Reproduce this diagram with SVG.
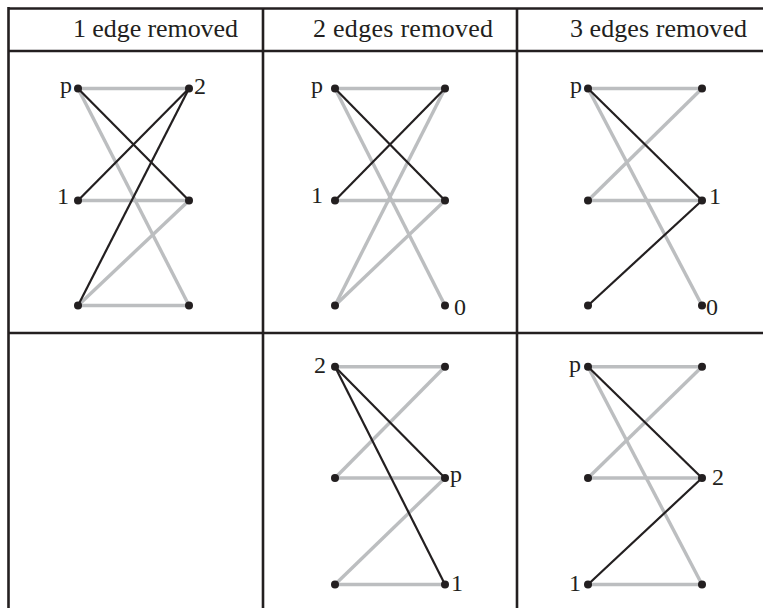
<svg xmlns="http://www.w3.org/2000/svg" width="763" height="608" viewBox="0 0 763 608">
<style>
.grid{stroke:#231f20;stroke-width:2.6;fill:none}
.g{stroke:#bcbec0;stroke-width:3.4;fill:none}
.k{stroke:#231f20;stroke-width:2.2;fill:none}
.dot{fill:#231f20}
</style>
<rect width="763" height="608" fill="#fff"/>
<g id="table">
<line class="grid" x1="8" y1="8.5" x2="763" y2="8.5"/>
<line class="grid" x1="8" y1="51" x2="763" y2="51"/>
<line class="grid" x1="8" y1="333" x2="763" y2="333"/>
<line class="grid" x1="8.5" y1="7" x2="8.5" y2="608"/>
<line class="grid" x1="263" y1="8" x2="263" y2="608"/>
<line class="grid" x1="517" y1="8" x2="517" y2="608"/>
</g>
<g id="headers" font-family="Liberation Serif, Times New Roman, serif" font-size="26" fill="#231f20">
<text x="73" y="37" textLength="165">1 edge removed</text>
<text x="313" y="37" textLength="180">2 edges removed</text>
<text x="570" y="37" textLength="177">3 edges removed</text>
</g>
<g id="connectors">
<line class="g" x1="78" y1="88.5" x2="189" y2="88.5"/>
<line class="g" x1="78" y1="88.5" x2="189" y2="305.5"/>
<line class="g" x1="78" y1="200.5" x2="189" y2="200.5"/>
<line class="g" x1="189" y1="200.5" x2="78" y2="305.5"/>
<line class="g" x1="78" y1="305.5" x2="189" y2="305.5"/>
<line class="k" x1="78" y1="88.5" x2="189" y2="200.5"/>
<line class="k" x1="78" y1="200.5" x2="189" y2="88.5"/>
<line class="k" x1="78" y1="305.5" x2="189" y2="88.5"/>
<line class="g" x1="335" y1="88.5" x2="445" y2="88.5"/>
<line class="g" x1="335" y1="88.5" x2="445" y2="305.5"/>
<line class="g" x1="335" y1="200.5" x2="445" y2="200.5"/>
<line class="g" x1="445" y1="88.5" x2="335" y2="305.5"/>
<line class="g" x1="445" y1="200.5" x2="335" y2="305.5"/>
<line class="k" x1="335" y1="88.5" x2="445" y2="200.5"/>
<line class="k" x1="335" y1="200.5" x2="445" y2="88.5"/>
<line class="g" x1="588" y1="88.5" x2="702" y2="88.5"/>
<line class="g" x1="588" y1="88.5" x2="702" y2="305.5"/>
<line class="g" x1="702" y1="88.5" x2="588" y2="200.5"/>
<line class="g" x1="588" y1="200.5" x2="702" y2="200.5"/>
<line class="k" x1="588" y1="88.5" x2="702" y2="200.5"/>
<line class="k" x1="702" y1="200.5" x2="588" y2="305.5"/>
<line class="g" x1="335" y1="366.7" x2="445" y2="366.7"/>
<line class="g" x1="445" y1="366.7" x2="335" y2="478"/>
<line class="g" x1="335" y1="478" x2="445" y2="478"/>
<line class="g" x1="445" y1="478" x2="335" y2="584.5"/>
<line class="g" x1="335" y1="584.5" x2="445" y2="584.5"/>
<line class="k" x1="335" y1="366.7" x2="445" y2="478"/>
<line class="k" x1="335" y1="366.7" x2="445" y2="584.5"/>
<line class="g" x1="588" y1="366.7" x2="702" y2="366.7"/>
<line class="g" x1="702" y1="366.7" x2="588" y2="478"/>
<line class="g" x1="588" y1="478" x2="702" y2="478"/>
<line class="g" x1="588" y1="366.7" x2="702" y2="584.5"/>
<line class="g" x1="588" y1="584.5" x2="702" y2="584.5"/>
<line class="k" x1="588" y1="366.7" x2="702" y2="478"/>
<line class="k" x1="702" y1="478" x2="588" y2="584.5"/>
</g>
<g id="nodes" font-family="Liberation Serif, Times New Roman, serif" font-size="24" fill="#231f20">
<g id="p1-tl"><circle class="dot" cx="78" cy="88.5" r="4"/><text x="72" y="92.5" text-anchor="end">p</text></g>
<g id="p1-tr"><circle class="dot" cx="189" cy="88.5" r="4"/><text x="194" y="94">2</text></g>
<g id="p1-ml"><circle class="dot" cx="78" cy="200.5" r="4"/><text x="69" y="204" text-anchor="end">1</text></g>
<g id="p1-mr"><circle class="dot" cx="189" cy="200.5" r="4"/></g>
<g id="p1-bl"><circle class="dot" cx="78" cy="305.5" r="4"/></g>
<g id="p1-br"><circle class="dot" cx="189" cy="305.5" r="4"/></g>
<g id="p2-tl"><circle class="dot" cx="335" cy="88.5" r="4"/><text x="323" y="92.5" text-anchor="end">p</text></g>
<g id="p2-tr"><circle class="dot" cx="445" cy="88.5" r="4"/></g>
<g id="p2-ml"><circle class="dot" cx="335" cy="200.5" r="4"/><text x="323" y="203" text-anchor="end">1</text></g>
<g id="p2-mr"><circle class="dot" cx="445" cy="200.5" r="4"/></g>
<g id="p2-bl"><circle class="dot" cx="335" cy="305.5" r="4"/></g>
<g id="p2-br"><circle class="dot" cx="445" cy="305.5" r="4"/><text x="454" y="315">0</text></g>
<g id="p3-tl"><circle class="dot" cx="588" cy="88.5" r="4"/><text x="582" y="92.5" text-anchor="end">p</text></g>
<g id="p3-tr"><circle class="dot" cx="702" cy="88.5" r="4"/></g>
<g id="p3-ml"><circle class="dot" cx="588" cy="200.5" r="4"/></g>
<g id="p3-mr"><circle class="dot" cx="702" cy="200.5" r="4"/><text x="709" y="203.5">1</text></g>
<g id="p3-bl"><circle class="dot" cx="588" cy="305.5" r="4"/></g>
<g id="p3-br"><circle class="dot" cx="702" cy="305.5" r="4"/><text x="706" y="315">0</text></g>
<g id="p5-tl"><circle class="dot" cx="335" cy="366.7" r="4"/><text x="326" y="373" text-anchor="end">2</text></g>
<g id="p5-tr"><circle class="dot" cx="445" cy="366.7" r="4"/></g>
<g id="p5-ml"><circle class="dot" cx="335" cy="478" r="4"/></g>
<g id="p5-mr"><circle class="dot" cx="445" cy="478" r="4"/><text x="450" y="482">p</text></g>
<g id="p5-bl"><circle class="dot" cx="335" cy="584.5" r="4"/></g>
<g id="p5-br"><circle class="dot" cx="445" cy="584.5" r="4"/><text x="451" y="591">1</text></g>
<g id="p6-tl"><circle class="dot" cx="588" cy="366.7" r="4"/><text x="581" y="371.5" text-anchor="end">p</text></g>
<g id="p6-tr"><circle class="dot" cx="702" cy="366.7" r="4"/></g>
<g id="p6-ml"><circle class="dot" cx="588" cy="478" r="4"/></g>
<g id="p6-mr"><circle class="dot" cx="702" cy="478" r="4"/><text x="712" y="485">2</text></g>
<g id="p6-bl"><circle class="dot" cx="588" cy="584.5" r="4"/><text x="581" y="591" text-anchor="end">1</text></g>
<g id="p6-br"><circle class="dot" cx="702" cy="584.5" r="4"/></g>
</g>
</svg>
